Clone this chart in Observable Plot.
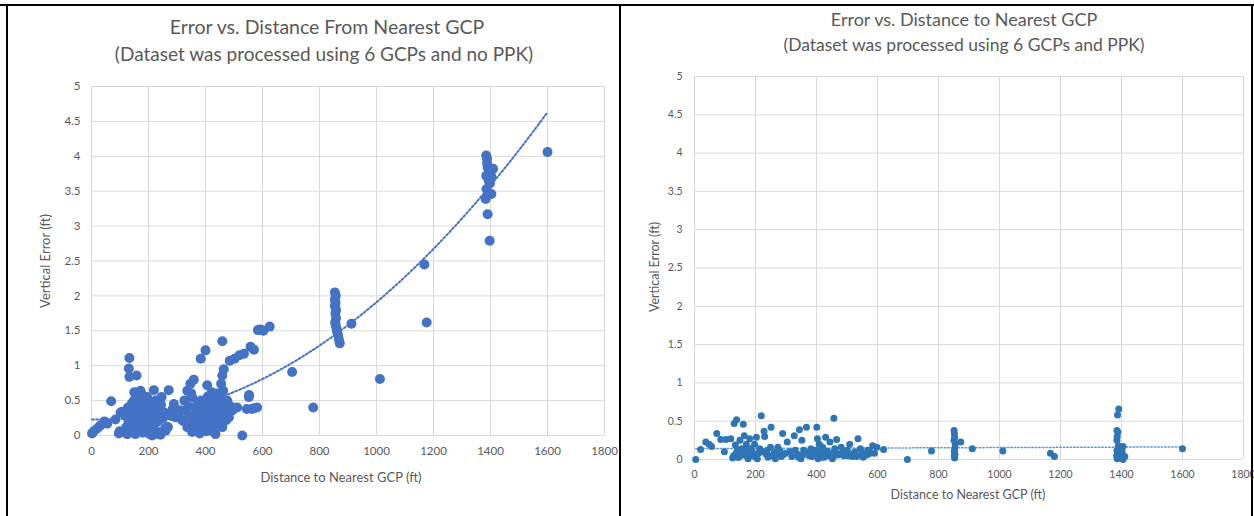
<!DOCTYPE html>
<html><head><meta charset="utf-8">
<script src="https://cdn.jsdelivr.net/npm/d3@7"></script>
<script src="https://cdn.jsdelivr.net/npm/@observablehq/plot@0.6"></script>
<style>
html,body{margin:0;padding:0;background:#fff;}
body{width:1254px;height:516px;overflow:hidden;position:relative;font-family:Lato,"Open Sans",sans-serif;}
.panel{position:absolute;top:0}
.t{position:absolute;color:#595959;white-space:nowrap;transform:translate(-50%,-50%);line-height:1}
.rot{transform:translate(-50%,-50%) rotate(-90deg)}
.ln{position:absolute;background:#000}
</style></head><body>
<div id="left" class="panel" style="left:0"></div>
<div id="right" class="panel" style="left:621px"></div>
<div class="ln" style="left:0;top:4px;width:1254px;height:2px"></div>
<div class="ln" style="left:6px;top:4px;width:2px;height:512px"></div>
<div class="ln" style="left:619px;top:4px;width:2px;height:512px"></div>
<div class="ln" style="left:1251px;top:4px;width:2px;height:512px"></div>
<script>
// ---------- text ----------
const leftTitle = "Error vs. Distance From Nearest GCP";
const leftSubtitle = "(Dataset was processed using 6 GCPs and no PPK)";
const rightTitle = "Error vs. Distance to Nearest GCP";
const rightSubtitle = "(Dataset was processed using 6 GCPs and PPK)";
const xLabel = "Distance to Nearest GCP (ft)";
const yLabel = "Vertical Error (ft)";
const xTicks = [0, 200, 400, 600, 800, 1000, 1200, 1400, 1600, 1800];
const yTicks = [0, 0.5, 1, 1.5, 2, 2.5, 3, 3.5, 4, 4.5, 5];

// ---------- left chart data (no PPK) ----------
const leftDist = [
  2,8,20,30,45,49,55,69,84,96,99,102,108,115,
  131,133,133,158,172,150,
  120,122,125,128,130,132,135,137,138,140,142,145,147,149,150,152,154,155,157,160,162,163,165,167,170,172,174,176,178,180,182,184,185,187,190,192,195,196,198,200,203,205,207,210,213,215,218,219,222,225,228,230,233,236,240,242,244,246,250,255,258,260,265,268,271,275,280,285,289,292,295,300,306,310,
  318,322,326,330,336,336,340,342,347,347,350,353,353,356,359,362,365,365,368,372,376,380,383,385,388,392,394,398,400,402,404,406,406,408,410,412,412,415,418,420,422,424,426,428,430,430,432,435,437,438,441,443,445,447,450,452,453,455,457,459,459,462,464,464,466,470,472,476,480,482,485,488,494,
  383,400,459,
  502,511,519,529,535,545,552,553,558,563,570,570,581,584,592,603,625,
  704,778,
  854,857,854,856,854,858,856,858,855,857,860,862,865,868,871,912,
  1012,1168,1176,
  1385,1388,1388,1390,1409,1395,1385,1403,1394,1398,1400,1386,1403,1395,1383,1390,1397,
  1600
];
const leftErr = [
  0.03,0.06,0.10,0.14,0.20,0.19,0.17,0.49,0.23,0.03,0.06,0.33,0.34,0.05,
  0.96,1.11,0.84,0.86,0.64,0.62,
  0.28,0.12,0.02,0.40,0.20,0.33,0.08,0.41,0.25,0.15,0.46,0.30,0.05,0.50,0.22,0.36,0.02,0.12,0.43,0.28,0.55,0.18,0.08,0.38,0.47,0.25,0.13,0.33,0.58,0.04,0.20,0.05,0.42,0.30,0.52,0.15,0.55,0.36,0.09,0.25,0.46,0.02,0.18,0.33,0.00,0.40,0.12,0.65,0.28,0.50,0.06,0.37,0.20,0.02,0.30,0.01,0.44,0.55,0.24,0.33,0.10,0.07,0.30,0.12,0.65,0.32,0.28,0.38,0.45,0.33,0.26,0.32,0.31,0.36,
  0.22,0.21,0.50,0.36,0.64,0.12,0.42,0.28,0.74,0.29,0.60,0.55,0.05,0.18,0.80,0.08,0.41,0.16,0.33,0.48,0.24,0.03,0.50,0.36,0.12,0.42,0.36,0.20,0.45,0.06,0.30,0.72,0.26,0.56,0.14,0.55,0.07,0.38,0.46,0.22,0.62,0.36,0.10,0.50,0.17,0.40,0.28,0.02,0.58,0.34,0.60,0.44,0.20,0.26,0.52,0.38,0.45,0.74,0.30,0.86,0.12,0.64,0.95,0.36,0.48,0.40,0.22,0.50,0.35,0.26,1.07,0.42,0.36,
  1.10,1.22,1.35,
  1.10,0.40,1.15,0.00,1.17,0.38,0.55,0.58,1.27,0.38,1.23,0.39,0.40,1.51,1.52,1.50,1.56,
  0.91,0.40,
  2.05,2.00,1.95,1.90,1.85,1.80,1.75,1.68,1.62,1.58,1.53,1.48,1.44,1.38,1.32,1.60,
  0.81,2.45,1.62,
  4.01,3.96,3.90,3.84,3.82,3.77,3.72,3.71,3.65,3.61,3.68,3.53,3.46,3.45,3.39,3.17,2.79,
  4.06
];

// ---------- right chart data (PPK) ----------
const rightDist = [
  4,20,37,48,56,73,86,98,103,119,125,130,138,134,141,143,149,154,160,163,165,170,176,181,184,192,197,203,206,214,219,228,230,235,241,249,251,257,265,273,279,289,293,304,319,327,338,344,349,352,358,367,376,382,392,401,403,405,409,414,420,425,430,436,444,452,457,460,466,474,481,490,501,509,517,525,536,544,553,560,568,577,584,598,620,698,777,
  128,136,145,152,158,167,172,179,188,195,201,210,222,238,246,262,270,285,298,312,330,341,355,362,372,385,395,398,411,418,427,433,441,448,455,463,470,485,495,505,520,532,548,565,575,590,
  851,852,853,851,873,853,854,853,852,855,852,911,1011,1167,1180,
  1391,1387,1385,1388,1386,1385,1390,1405,1385,1384,1400,1411,1405,1386,1392,1388,1395,1402,
  1600
];
const rightErr = [
  0.00,0.13,0.23,0.20,0.17,0.34,0.26,0.10,0.26,0.27,0.02,0.47,0.52,0.19,0.12,0.03,0.25,0.14,0.46,0.31,0.07,0.20,0.01,0.27,0.14,0.05,0.20,0.29,0.01,0.14,0.57,0.37,0.30,0.07,0.03,0.16,0.42,0.05,0.01,0.16,0.12,0.34,0.07,0.23,0.04,0.31,0.07,0.39,0.01,0.25,0.12,0.42,0.05,0.14,0.10,0.42,0.27,0.01,0.20,0.07,0.16,0.03,0.29,0.10,0.23,0.01,0.54,0.14,0.26,0.07,0.16,0.05,0.12,0.20,0.04,0.10,0.27,0.14,0.03,0.07,0.12,0.08,0.18,0.16,0.13,0.00,0.11,
  0.05,0.08,0.03,0.10,0.06,0.12,0.04,0.09,0.11,0.07,0.03,0.08,0.10,0.12,0.05,0.09,0.06,0.04,0.08,0.10,0.12,0.03,0.06,0.10,0.08,0.04,0.06,0.12,0.09,0.03,0.07,0.11,0.05,0.08,0.04,0.09,0.06,0.08,0.10,0.05,0.07,0.04,0.09,0.06,0.10,0.08,
  0.38,0.34,0.29,0.25,0.23,0.14,0.07,0.02,0.05,0.20,0.10,0.14,0.11,0.08,0.04,
  0.66,0.58,0.38,0.36,0.30,0.25,0.18,0.17,0.12,0.05,0.03,0.04,0.00,0.01,0.08,0.09,0.06,0.10,
  0.14
];

const leftData = leftDist.map((d, i) => ({d, e: leftErr[i]}));
const rightData = rightDist.map((d, i) => ({d, e: rightErr[i]}));

// Polynomial (order 2) least-squares trendline, computed from the left data
function quadFit(data) {
  let S = Array.from({length: 5}, () => 0), T = [0, 0, 0];
  for (const {d, e} of data) {
    for (let k = 0; k < 5; k++) S[k] += d ** k;
    for (let k = 0; k < 3; k++) T[k] += e * d ** k;
  }
  const A = [[S[0], S[1], S[2], T[0]], [S[1], S[2], S[3], T[1]], [S[2], S[3], S[4], T[2]]];
  for (let i = 0; i < 3; i++) {
    for (let j = i + 1; j < 3; j++) {
      const f = A[j][i] / A[i][i];
      for (let k = i; k < 4; k++) A[j][k] -= f * A[i][k];
    }
  }
  const c = [0, 0, 0];
  for (let i = 2; i >= 0; i--) {
    let s = A[i][3];
    for (let k = i + 1; k < 3; k++) s -= A[i][k] * c[k];
    c[i] = s / A[i][i];
  }
  return c;
}
const coef = quadFit(leftData);
const [xmin, xmax] = d3.extent(leftDist);
const leftTrend = d3.range(xmin, xmax + 0.001, (xmax - xmin) / 200).map(x => ({d: x, e: coef[0] + coef[1] * x + coef[2] * x * x}));

const fmt = d => String(d);

const leftPlot = Plot.plot({
  width: 620, height: 516,
  marginLeft: 91, marginRight: 16, marginTop: 86, marginBottom: 81,
  style: {fontFamily: "Lato, 'Open Sans', sans-serif", fontSize: "11.5px", color: "#595959", background: "transparent"},
  x: {domain: [0, 1800], ticks: xTicks, tickSize: 0, tickPadding: 11, tickFormat: fmt, label: null},
  y: {domain: [0, 5], ticks: yTicks, tickSize: 0, tickPadding: 11, tickFormat: fmt, label: null},
  marks: [
    Plot.gridX(xTicks, {stroke: "#d9d9d9", strokeOpacity: 1}),
    Plot.gridY(yTicks, {stroke: "#d9d9d9", strokeOpacity: 1}),
    Plot.line(leftTrend, {x: "d", y: "e", stroke: "#4472c4", strokeWidth: 2, strokeDasharray: "2 2.2"}),
    Plot.dot(leftData, {x: "d", y: "e", r: 5, fill: "#4472c4", stroke: "none"})
  ]
});
document.getElementById("left").appendChild(leftPlot);

const rightPlot = Plot.plot({
  width: 633, height: 516,
  marginLeft: 73, marginRight: 11, marginTop: 76, marginBottom: 57,
  style: {fontFamily: "Lato, 'Open Sans', sans-serif", fontSize: "10.5px", color: "#595959", background: "transparent"},
  x: {domain: [0, 1800], ticks: xTicks, tickSize: 0, tickPadding: 11, tickFormat: fmt, label: null},
  y: {domain: [0, 5], ticks: yTicks, tickSize: 0, tickPadding: 12, tickFormat: fmt, label: null},
  marks: [
    Plot.gridX(xTicks, {stroke: "#d9d9d9", strokeOpacity: 1}),
    Plot.gridY(yTicks, {stroke: "#d9d9d9", strokeOpacity: 1}),
    Plot.linearRegressionY(rightData, {x: "d", y: "e", stroke: "#5b9bd5", strokeWidth: 1.5, strokeDasharray: "1.5 2", ci: 0}),
    Plot.dot(rightData, {x: "d", y: "e", r: 3.5, fill: "#2e75b6", stroke: "none"})
  ]
});
document.getElementById("right").appendChild(rightPlot);

function addText(txt, x, y, size, rotate) {
  const el = document.createElement("div");
  el.className = "t" + (rotate ? " rot" : "");
  el.style.left = x + "px"; el.style.top = y + "px"; el.style.fontSize = size + "px";
  el.textContent = txt;
  document.body.appendChild(el);
}
addText(leftTitle, 327, 27, 19.5);
addText(leftSubtitle, 324, 53, 19);
addText(rightTitle, 964, 19, 18);
addText(rightSubtitle, 964, 45, 17.5);
addText(xLabel, 341, 477, 13);
addText(yLabel, 45, 261, 13, true);
addText(xLabel, 968, 495, 12.5);
addText(yLabel, 655, 267, 12.5, true);
</script>
</body></html>
